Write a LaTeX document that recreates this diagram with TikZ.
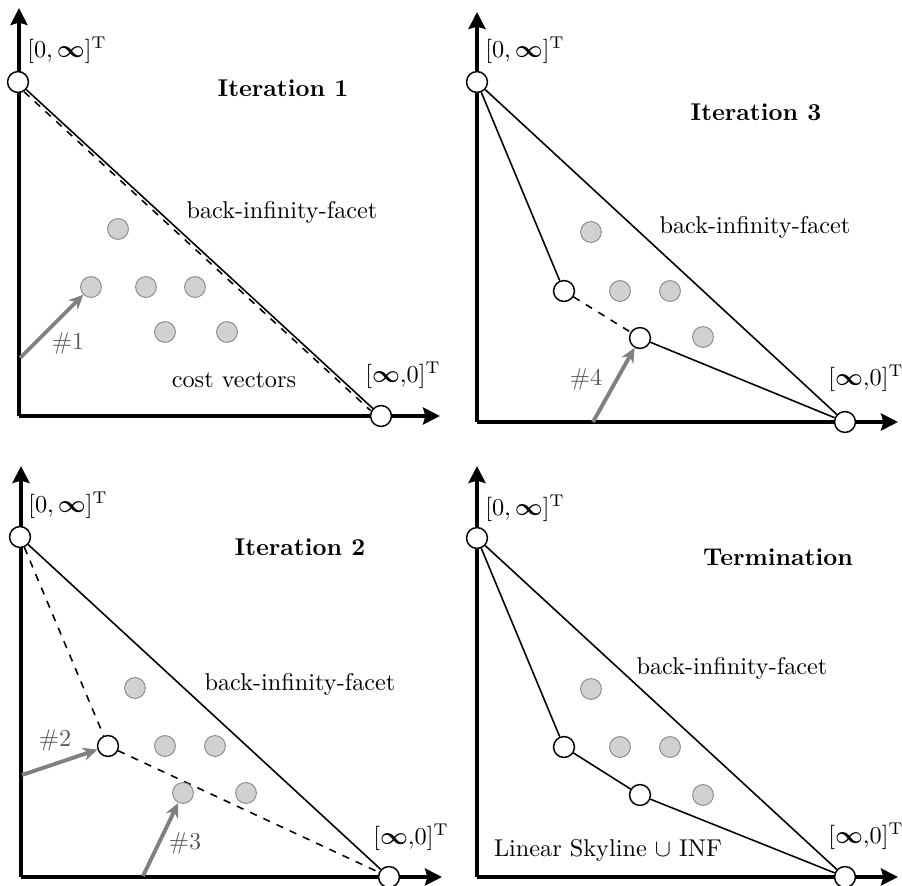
\documentclass[tikz,border=0pt]{standalone}
\usepackage{amsmath}
\usetikzlibrary{arrows.meta}
\begin{document}
\begin{tikzpicture}[x=0.412pt,y=-0.412pt,
  ax/.style={line width=1.65pt,-{Stealth[length=7pt,width=7pt,inset=1pt]}},
  vtx/.style={circle,draw,fill=white,line width=0.6pt,minimum size=8.6pt,inner sep=0pt},
  cv/.style={circle,draw=black!45,fill=black!18,line width=0.4pt,minimum size=8.6pt,inner sep=0pt},
  seg/.style={line width=0.65pt},
  hint/.style={line width=1.6pt,draw=black!50,-{Stealth[length=6pt,width=5.5pt]}},
  tag/.style={text=black!65},
  ttl/.style={font=\bfseries}]

\useasboundingbox (0,0) rectangle (902,886);

%Iteration 1
\draw[ax] (19,416) -- (19,8);
\draw[ax] (19,416) -- (440,416);
\node[vtx] (at) at (18,82) {};
\node[vtx] (ar) at (381,416) {};
\draw[seg] (at) -- (ar);
\draw[seg,dashed,transform canvas={shift={(-0.9pt,-0.9pt)}}] (at) -- (ar);
\node[cv] (a1) at (118,229) {};
\node[cv] (a2) at (91,287) {};
\node[cv] (a3) at (146,287) {};
\node[cv] (a4) at (195,287) {};
\node[cv] (a5) at (165,332) {};
\node[cv] (a6) at (227,332) {};
\coordinate (ah) at (20,358);
\draw[hint] (ah) -- (a2);
\node[tag] (an) at (68,343) {\#1};
\node (atl) at (67,50) {$[0,\boldsymbol{\infty}]^{\mathrm{T}}$};
\node (arl) at (403,375) {$[\boldsymbol{\infty}{,}0]^{\mathrm{T}}$};
\node[ttl] (ait) at (283,88) {Iteration 1};
\node (abf) at (282,212) {back-infinity-facet};
\node (acv) at (234,380) {cost vectors};

%Iteration 3
\draw[ax] (477,422) -- (477,12);
\draw[ax] (477,422) -- (898,422);
\node[vtx] (bt) at (477,82) {};
\node[vtx] (br) at (845,422) {};
\node[vtx] (b1) at (564,291) {};
\node[vtx] (b2) at (640,338) {};
\draw[seg] (bt) -- (br);
\draw[seg] (bt) -- (b1);
\draw[seg,dashed] (b1) -- (b2);
\draw[seg] (b2) -- (br);
\node[cv] (b3) at (591,232) {};
\node[cv] (b4) at (620,291) {};
\node[cv] (b5) at (670,291) {};
\node[cv] (b6) at (703,337) {};
\coordinate (bh) at (593,422);
\draw[hint] (bh) -- (b2);
\node[tag] (bn) at (586,379) {\#4};
\node (btl) at (525,50) {$[0,\boldsymbol{\infty}]^{\mathrm{T}}$};
\node (brl) at (866,378) {$[\boldsymbol{\infty}{,}0]^{\mathrm{T}}$};
\node[ttl] (bit) at (756,112) {Iteration 3};
\node (bbf) at (755,227) {back-infinity-facet};

%Iteration 2
\draw[ax] (21,877) -- (21,466);
\draw[ax] (21,877) -- (442,877);
\node[vtx] (ct) at (20,537) {};
\node[vtx] (cr) at (389,877) {};
\node[vtx] (c1) at (108,746) {};
\draw[seg] (ct) -- (cr);
\draw[seg,dashed] (ct) -- (c1);
\draw[seg,dashed] (c1) -- (cr);
\node[cv] (c2) at (135,688) {};
\node[cv] (c3) at (165,746) {};
\node[cv] (c4) at (215,746) {};
\node[cv] (c5) at (183,793) {};
\node[cv] (c6) at (246,793) {};
\coordinate (ch) at (22,775);
\coordinate (cg) at (143,876);
\draw[hint] (ch) -- (c1);
\draw[hint] (cg) -- (c5);
\node[tag] (cn) at (55,740) {\#2};
\node[tag] (cm) at (185,843) {\#3};
\node (ctl) at (68,505) {$[0,\boldsymbol{\infty}]^{\mathrm{T}}$};
\node (crl) at (411,837) {$[\boldsymbol{\infty}{,}0]^{\mathrm{T}}$};
\node[ttl] (cit) at (300,547) {Iteration 2};
\node (cbf) at (300,684) {back-infinity-facet};

%Termination
\draw[ax] (477,877) -- (477,466);
\draw[ax] (477,877) -- (898,877);
\node[vtx] (dt) at (477,538) {};
\node[vtx] (dr) at (845,877) {};
\node[vtx] (d1) at (564,747) {};
\node[vtx] (d2) at (640,795) {};
\draw[seg] (dt) -- (dr);
\draw[seg] (dt) -- (d1) -- (d2) -- (dr);
\node[cv] (d3) at (591,689) {};
\node[cv] (d4) at (620,747) {};
\node[cv] (d5) at (670,747) {};
\node[cv] (d6) at (703,795) {};
\node (dtl) at (525,508) {$[0,\boldsymbol{\infty}]^{\mathrm{T}}$};
\node (drl) at (866,836) {$[\boldsymbol{\infty}{,}0]^{\mathrm{T}}$};
\node[ttl] (dit) at (778,557) {Termination};
\node (dbf) at (732,668) {back-infinity-facet};
\node (dls) at (608,850) {Linear Skyline $\cup$ INF};

\end{tikzpicture}
\end{document}
